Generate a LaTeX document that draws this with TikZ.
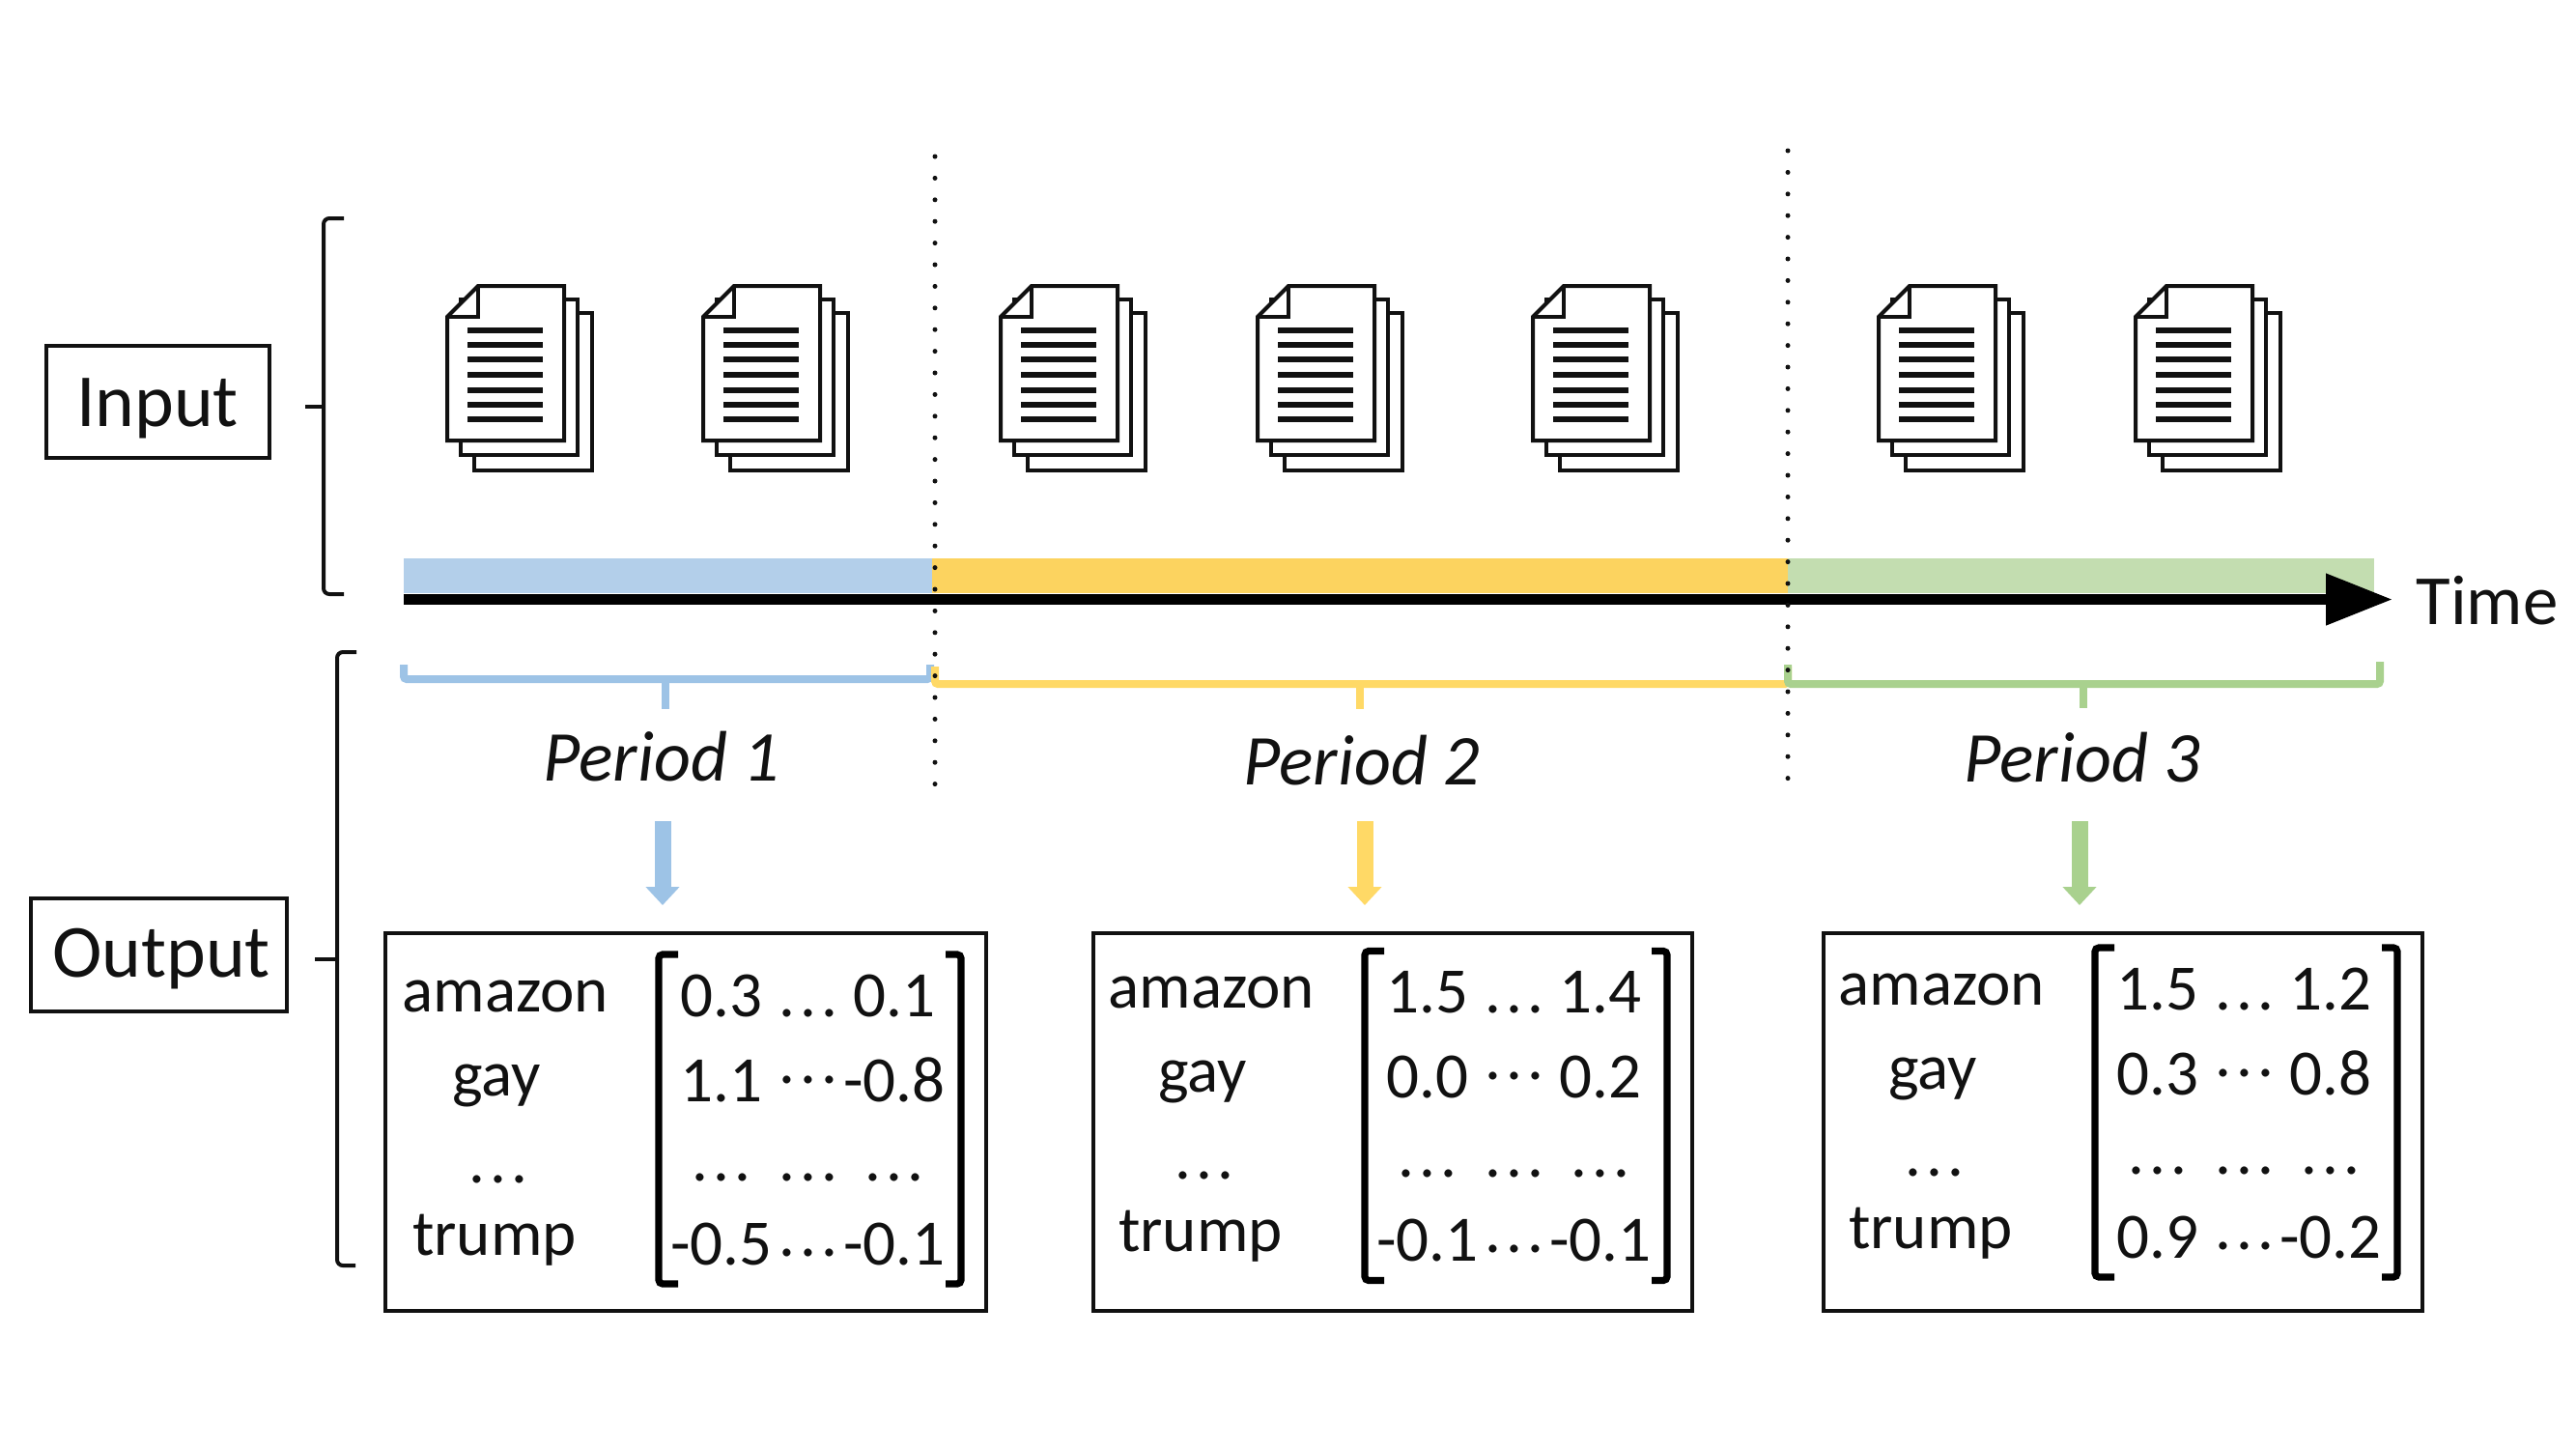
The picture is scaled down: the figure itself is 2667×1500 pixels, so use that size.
\documentclass[tikz,border=0pt]{standalone}
\usepackage{fontspec}
\setmainfont{Carlito}
\usetikzlibrary{arrows.meta}
\definecolor{inkc}{HTML}{111111}
\definecolor{barblue}{HTML}{B3CFEA}
\definecolor{baryel}{HTML}{FCD35F}
\definecolor{bargrn}{HTML}{C3DDB0}
\definecolor{lineblue}{HTML}{9DC3E6}
\definecolor{lineyel}{HTML}{FFD966}
\definecolor{linegrn}{HTML}{A9D18E}
\newcommand{\fs}[1]{\fontsize{#1}{#1}\selectfont}
\newcommand{\ddd}{.\kern2.6pt.\kern2.6pt.}
\tikzset{
  lab/.style={inner sep=0pt,anchor=base,text=inkc,font=\fs{33.5pt}},
  biglab/.style={inner sep=0pt,anchor=base,text=inkc,font=\fs{38.8pt}},
  perlab/.style={inner sep=0pt,anchor=base,text=inkc,font=\fs{37pt}\itshape},
  framebox/.style={draw=inkc,line width=2.2pt,rectangle,inner sep=0pt},
  curly/.style={draw=inkc,line width=2pt,rounded corners=3pt},
  sheet/.style={draw=inkc,fill=white,line width=2pt,line join=miter},
  textline/.style={draw=inkc,line width=2.7pt},
  sepline/.style={draw=inkc,line width=2.5pt,line cap=round,dash pattern=on 0pt off 11.2pt},
  mbr/.style={draw=black,line width=3.6pt,rounded corners=2pt},
  spanb/.style={line width=4pt,rounded corners=1.5pt},
  tickb/.style={line width=4pt},
  blockar/.style={line width=8.5pt,-{Triangle[length=9.5pt,width=17pt]}},
}
% document stack: left edge
\newcommand{\docstack}[1]{%
  \draw[sheet] (#1+28,324) rectangle (#1+150,487);
  \draw[sheet] (#1+14,310) rectangle (#1+135,471);
  \draw[sheet] (#1+32,296) -- (#1+121,296) -- (#1+121,456) -- (#1,456) -- (#1,328) -- cycle;
  \draw[sheet,fill=none] (#1+32,296) -- (#1+32,328) -- (#1,328);
  \foreach \yy in {342,357,372,388,404,419,434}
    \draw[textline] (#1+21,\yy) -- (#1+99,\yy);
}
% panel contents: prefix, dx, dy, then numbers
\newcommand{\mypanel}[9]{%
  \begin{scope}[shift={(#2,0)}]
    \node[lab] (#1w1) at (523,1047+#3) {amazon};
    \node[lab] (#1w2) at (514,1134+#3) {gay};
    \node[lab] (#1w3) at (516,1224+#3) {\ddd};
    \node[lab] (#1w4) at (512,1299+#3) {trump};
    \draw[mbr] (702,988+#3) -- (682,988+#3) -- (682,1329+#3) -- (702,1329+#3);
    \draw[mbr] (979,988+#3) -- (995,988+#3) -- (995,1329+#3) -- (979,1329+#3);
    \node[lab] (#1a) at (747,1052+#3) {#4};
    \node[lab] (#1b) at (926,1052+#3) {#5};
    \node[lab] (#1c) at (747,1140+#3) {#6};
    \node[lab] (#1d) at (926,1140+#3) {#7};
    \node[lab] (#1e) at (747,1309+#3) {#8};
    \node[lab] (#1f) at (926,1309+#3) {#9};
    \node[lab] (#1g) at (837,1052+#3) {\ddd};
    \node[lab] (#1h) at (837,1121+#3) {\ddd};
    \node[lab] (#1i) at (747,1222+#3) {\ddd};
    \node[lab] (#1j) at (837,1222+#3) {\ddd};
    \node[lab] (#1k) at (926,1222+#3) {\ddd};
    \node[lab] (#1l) at (837,1300+#3) {\ddd};
  \end{scope}
}
\begin{document}
\begin{tikzpicture}[x=0.5pt,y=-0.5pt]
\useasboundingbox (0,0) rectangle (2667,1500);
\fill[white] (0,0) rectangle (2667,1500);
% input / output labels
\node[framebox,minimum width=115.5pt,minimum height=58pt] (inbox) at (163.5,416) {};
\node[biglab] (intext) at (163,441) {Input};
\node[framebox,minimum width=132.5pt,minimum height=58.5pt] (outbox) at (164.5,988.5) {};
\node[biglab] (outtext) at (167,1011.5) {Output};
% left brackets
\coordinate (intick) at (316,421);
\coordinate (inmid) at (335,421);
\draw[curly] (356,226) -- (335,226) -- (335,615) -- (356,615);
\draw[curly,rounded corners=0pt] (intick) -- (inmid);
\coordinate (outtick) at (326,993);
\coordinate (outmid) at (349,993);
\draw[curly] (369,675) -- (349,675) -- (349,1310) -- (368,1310);
\draw[curly,rounded corners=0pt] (outtick) -- (outmid);
% documents
\docstack{463}
\docstack{728}
\docstack{1036}
\docstack{1302}
\docstack{1587}
\docstack{1945}
\docstack{2211}
% time bar
\fill[barblue] (418,578) rectangle (965,614);
\fill[baryel] (965,578) rectangle (1851,614);
\fill[bargrn] (1851,578) rectangle (2458,614);
\coordinate (timestart) at (418,620.5);
\coordinate (timeend) at (2477,620.5);
\draw[black,line width=5.5pt,-{Triangle[length=34.5pt,width=25.5pt]}] (timestart) -- (timeend);
\node[inner sep=0pt,anchor=base,text=inkc,font=\fs{36.5pt}] (timetext) at (2575,646.5) {Time};
% period spans
\draw[lineblue,spanb] (418,688) -- (418,703) -- (963,703) -- (963,688);
\draw[lineblue,tickb] (689,703) -- (689,734);
\draw[lineyel,spanb] (968,690) -- (968,708) -- (1851,708) -- (1851,690);
\draw[lineyel,tickb] (1408,708) -- (1408,734);
\draw[linegrn,spanb] (1851,688) -- (1851,708) -- (2464,708) -- (2464,685);
\draw[linegrn,tickb] (2157,708) -- (2157,733);
% separators
\coordinate (sepatop) at (968,162);
\coordinate (sepabot) at (968,813);
\coordinate (sepbtop) at (1851,156);
\coordinate (sepbbot) at (1851,807);
\draw[sepline] (sepatop) -- (sepabot);
\draw[sepline] (sepbtop) -- (sepbbot);
% periods
\node[perlab] (per1) at (685,808) {Period 1};
\node[perlab] (per2) at (1410,812) {Period 2};
\node[perlab] (per3) at (2156,809) {Period 3};
% panels
\node[framebox,anchor=north west,minimum width=311pt,minimum height=195.5pt] (pabox) at (397,963.5) {};
\node[framebox,anchor=north west,minimum width=310pt,minimum height=195.5pt] (pbbox) at (1130,963.5) {};
\node[framebox,anchor=north west,minimum width=310pt,minimum height=195.5pt] (pcbox) at (1886,963.5) {};
\mypanel{pa}{0}{0}{0.3}{0.1}{1.1}{-0.8}{-0.5}{-0.1}
\mypanel{pb}{731}{-3.5}{1.5}{1.4}{0.0}{0.2}{-0.1}{-0.1}
\mypanel{pc}{1487}{-7}{1.5}{1.2}{0.3}{0.8}{0.9}{-0.2}
% block arrows
\coordinate (a1s) at (686,850);
\coordinate (a1e) at (686,937);
\coordinate (a2s) at (1413,850);
\coordinate (a2e) at (1413,937);
\coordinate (a3s) at (2153,850);
\coordinate (a3e) at (2153,937);
\draw[lineblue,blockar] (a1s) -- (a1e);
\draw[lineyel,blockar] (a2s) -- (a2e);
\draw[linegrn,blockar] (a3s) -- (a3e);
\end{tikzpicture}
\end{document}
